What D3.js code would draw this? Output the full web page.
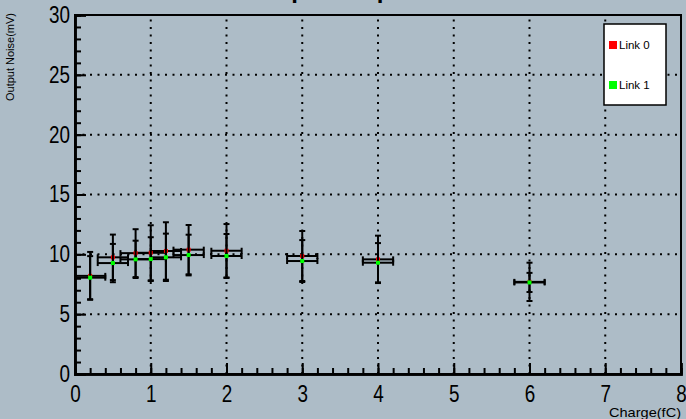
<!DOCTYPE html>
<html>
<head>
<meta charset="utf-8">
<script src="https://cdn.jsdelivr.net/npm/d3@7"></script>
<style>
  body { margin: 0; background: #adbcc7; }
  svg { display: block; }
</style>
</head>
<body>
<div id="chart"></div>
<script>
  // data
  var charge   = [0.2, 0.5, 0.8, 1.0, 1.2, 1.5, 2.0, 3.0, 4.0, 6.0];
  var chargeErr = [0.2, 0.2, 0.2, 0.2, 0.2, 0.2, 0.2, 0.2, 0.2, 0.2];
  var link0    = [8.2, 9.75, 10.1, 10.13, 10.28, 10.39, 10.3, 9.86, 9.58, 7.7];
  var link0Err = [2.0, 1.9, 2.0, 2.3, 2.4, 2.06, 2.23, 2.09, 1.98, 1.6];
  var link1    = [8.05, 9.27, 9.58, 9.6, 9.75, 9.94, 9.86, 9.44, 9.3, 7.65];
  var link1Err = [1.8, 1.6, 1.56, 1.83, 1.98, 1.7, 1.84, 1.75, 1.64, 0.8];
  var seriesNames = ["Link 0", "Link 1"];
  var seriesColors = ["#ff0000", "#00ff00"];
  var xTicks = [0, 1, 2, 3, 4, 5, 6, 7, 8];
  var yTicks = [0, 5, 10, 15, 20, 25, 30];

  var width = 686, height = 419;
  var margin = {left: 75, right: 5, top: 15, bottom: 45};
  var labelFont = "'Liberation Sans', Arial, sans-serif";

  var svg = d3.select("#chart").append("svg")
              .attr("width", width)
              .attr("height", height);

  svg.append("rect").attr("width", width).attr("height", height).attr("fill", "#adbcc7");

  var x = d3.scaleLinear().domain([0, 8]).range([margin.left, width - margin.right]);
  var y = d3.scaleLinear().domain([0, 30]).range([height - margin.bottom, margin.top]);

  // title, mostly cut off at the top of the pad
  svg.append("text")
     .attr("x", 270)
     .attr("y", -2)
     .attr("font-family", labelFont)
     .attr("font-weight", "bold")
     .attr("font-size", 24)
     .text("Input Output Noise");

  //dotted grid
  var grid = svg.append("g").attr("stroke", "#000").attr("stroke-width", 2)
                .attr("stroke-dasharray", "2,5.5");
  grid.selectAll(".gx").data(xTicks.slice(1, -1)).enter()
      .append("line")
      .attr("x1", function(d){ return x(d); }).attr("x2", function(d){ return x(d); })
      .attr("y1", y(0)).attr("y2", y(30));
  grid.selectAll(".gy").data(yTicks.slice(1)).enter()
      .append("line")
      .attr("y1", function(d){ return y(d); }).attr("y2", function(d){ return y(d); })
      .attr("x1", x(0)).attr("x2", x(8));

  // frame
  svg.append("rect")
     .attr("x", x(0)).attr("y", y(30))
     .attr("width", x(8) - x(0)).attr("height", y(0) - y(30))
     .attr("fill", "none").attr("stroke", "#000").attr("stroke-width", 2);

  // axes, ticks point into the frame
  var xMinor = d3.range(0, 8.01, 0.2);
  var yMinor = d3.range(0, 30.01, 1);

  var xAxis = svg.append("g").attr("transform", "translate(0," + y(0) + ")")
     .call(d3.axisBottom(x).tickValues(xTicks).tickSize(-11).tickPadding(16)
           .tickFormat(d3.format("d")));
  svg.append("g").attr("transform", "translate(0," + y(0) + ")")
     .call(d3.axisBottom(x).tickValues(xMinor).tickSize(-6).tickFormat(""));

  var yAxis = svg.append("g").attr("transform", "translate(" + x(0) + ",0)")
     .call(d3.axisLeft(y).tickValues(yTicks).tickSize(-11).tickPadding(16)
           .tickFormat(d3.format("d")));
  svg.append("g").attr("transform", "translate(" + x(0) + ",0)")
     .call(d3.axisLeft(y).tickValues(yMinor).tickSize(-6).tickFormat(""));

  svg.selectAll(".domain").attr("stroke", "#000").attr("stroke-width", 2.5);
  svg.selectAll(".tick line").attr("stroke", "#000").attr("stroke-width", 2);
  // narrow helvetica look: squeeze digits
  svg.selectAll(".tick text")
     .attr("font-family", labelFont).attr("font-size", 23).attr("fill", "#000")
     .attr("lengthAdjust", "spacingAndGlyphs")
     .attr("textLength", function(d){ return String(d).length * 10.5; });
  xAxis.selectAll(".tick text").attr("dy", "0.5em");
  yAxis.selectAll(".tick text").attr("x", -5);

  // axis titles
  svg.append("text")
     .attr("x", x(8)).attr("y", 417)
     .attr("text-anchor", "end")
     .attr("font-family", labelFont)
     .attr("font-size", 13)
     .attr("lengthAdjust", "spacingAndGlyphs")
     .attr("textLength", 72)
     .text("Charge(fC)");
  svg.append("text")
     .attr("transform", "translate(14,13) rotate(-90)")
     .attr("text-anchor", "end")
     .attr("font-family", labelFont)
     .attr("font-size", 11)
     .text("Output Noise(mV)");

  // error bars + markers for one series
  function drawSeries(vals, errs, color){
    var pts = charge.map(function(c, i){
      return {x: c, ex: chargeErr[i], y: vals[i], ey: errs[i]};
    });
    var g = svg.append("g").attr("stroke", "#000").attr("stroke-width", 2);
    var cap = 3;
    pts.forEach(function(d){
      // vertical
      g.append("line").attr("x1", x(d.x)).attr("x2", x(d.x))
       .attr("y1", y(d.y - d.ey)).attr("y2", y(d.y + d.ey));
      g.append("line").attr("x1", x(d.x) - cap).attr("x2", x(d.x) + cap)
       .attr("y1", y(d.y + d.ey)).attr("y2", y(d.y + d.ey));
      g.append("line").attr("x1", x(d.x) - cap).attr("x2", x(d.x) + cap)
       .attr("y1", y(d.y - d.ey)).attr("y2", y(d.y - d.ey));
      // horizontal
      g.append("line").attr("x1", x(d.x - d.ex)).attr("x2", x(d.x + d.ex))
       .attr("y1", y(d.y)).attr("y2", y(d.y));
      g.append("line").attr("x1", x(d.x - d.ex)).attr("x2", x(d.x - d.ex))
       .attr("y1", y(d.y) - cap).attr("y2", y(d.y) + cap);
      g.append("line").attr("x1", x(d.x + d.ex)).attr("x2", x(d.x + d.ex))
       .attr("y1", y(d.y) - cap).attr("y2", y(d.y) + cap);
    });
    svg.append("g").selectAll("rect").data(pts).enter()
       .append("rect")
       .attr("x", function(d){ return x(d.x) - 2; })
       .attr("y", function(d){ return y(d.y) - 2; })
       .attr("width", 4).attr("height", 4)
       .attr("fill", color);
  }
  drawSeries(link0, link0Err, seriesColors[0]);
  drawSeries(link1, link1Err, seriesColors[1]);

  // legend
  var leg = svg.append("g").attr("transform", "translate(604,24)");
  leg.append("rect").attr("width", 62).attr("height", 81)
     .attr("fill", "#fff").attr("stroke", "#000").attr("stroke-width", 1.5);
  seriesNames.forEach(function(name, i){
    leg.append("rect").attr("x", 5).attr("y", 17 + i * 40)
       .attr("width", 8).attr("height", 8).attr("fill", seriesColors[i]);
    leg.append("text").attr("x", 15).attr("y", 25 + i * 40)
       .attr("font-family", labelFont)
       .attr("font-size", 11.5)
       .text(name);
  });
</script>
</body>
</html>
